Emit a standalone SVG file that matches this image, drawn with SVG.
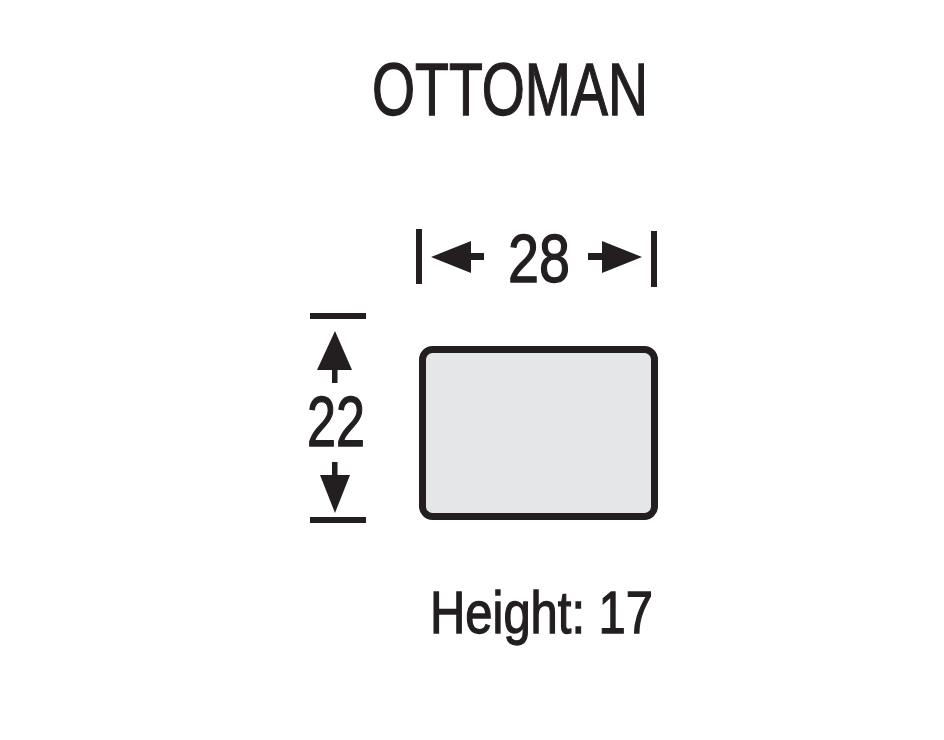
<svg xmlns="http://www.w3.org/2000/svg" width="944" height="740" viewBox="0 0 944 740">
<style>
.t{font-family:"Liberation Sans",Arial,sans-serif;fill:#231f20;stroke:#231f20;stroke-width:1.3}
.bar{stroke:#231f20;stroke-width:6;fill:none}
.ah{fill:#231f20}
</style>
<rect width="944" height="740" fill="#ffffff"/>
<text class="t" x="372" y="115" font-size="74" textLength="276" lengthAdjust="spacingAndGlyphs">OTTOMAN</text>
<g id="ottoman">
<rect x="422.5" y="349.5" width="232" height="167" rx="10" ry="10" fill="#e5e6e7" stroke="#231f20" stroke-width="7"/>
</g>
<g id="dimensions">
<line class="bar" x1="419" y1="229" x2="419" y2="284"/>
<line class="bar" x1="654" y1="231" x2="654" y2="287"/>
<polygon class="ah" points="431,257 471,241 471,253 484,253 484,260 471,260 471,273"/>
<polygon class="ah" points="642,257 602,241 602,253 588,253 588,260 602,260 602,273"/>
<text class="t" x="508" y="282" font-size="68" textLength="62" lengthAdjust="spacingAndGlyphs">28</text>
<line class="bar" x1="310" y1="316" x2="366" y2="316"/>
<line class="bar" x1="310" y1="520" x2="366" y2="520"/>
<polygon class="ah" points="335,331 352,370 337.5,370 337.5,383 332,383 332,370 317,370"/>
<polygon class="ah" points="335,513 350,475 337.5,475 337.5,462 332,462 332,475 320,475"/>
<text class="t" x="307" y="446" font-size="70" textLength="58" lengthAdjust="spacingAndGlyphs">22</text>
</g>
<text class="t" x="430" y="633" font-size="59" textLength="223" lengthAdjust="spacingAndGlyphs">Height: 17</text>
</svg>
